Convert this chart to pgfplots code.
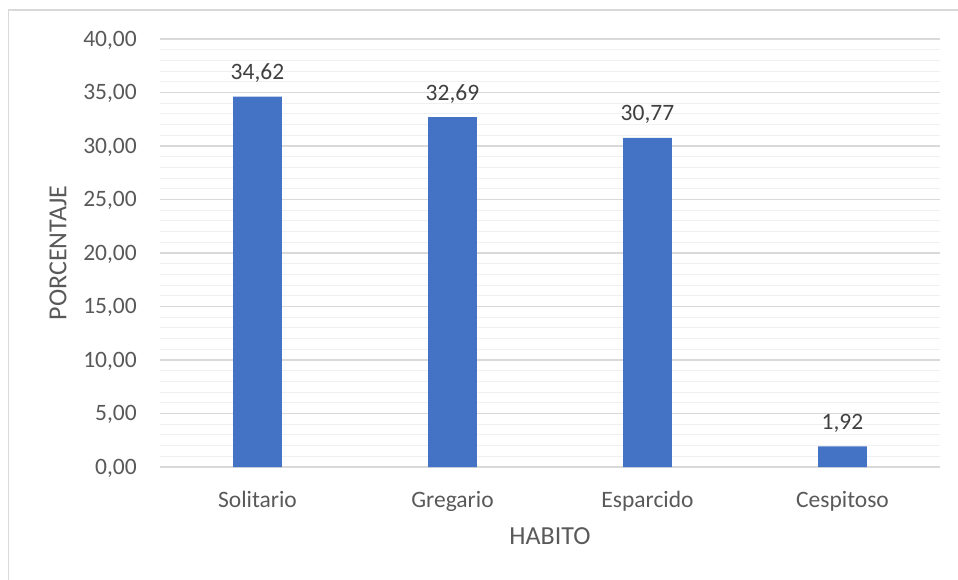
\documentclass[border=0pt]{standalone}
\usepackage{pgfplots}
\pgfplotsset{compat=1.18}
\usepackage{pgfplotstable}
\usepackage{fontspec}
\setmainfont{Carlito}
\definecolor{barblue}{HTML}{4472C4}
\definecolor{gridmaj}{HTML}{D9D9D9}
\definecolor{gridmin}{HTML}{F0F0F0}
\definecolor{txt}{HTML}{595959}
\definecolor{dtxt}{HTML}{404040}
\pgfplotstableread{
x y label
0 34.62 34,62
1 32.69 32,69
2 30.77 30,77
3 1.92 1,92
}\datatable
\begin{document}
\fontsize{23.5bp}{28bp}\selectfont
\begin{tikzpicture}[font=\fontsize{23.5bp}{28bp}\selectfont]
\begin{axis}[
  scale only axis,
  width=780bp, height=428bp,
  xmin=-0.5, xmax=3.5,
  ymin=0, ymax=40,
  xtick={0,1,2,3},
  xticklabels={Solitario,Gregario,Esparcido,Cespitoso},
  ytick={0,5,...,40},
  yticklabels={{0,00},{5,00},{10,00},{15,00},{20,00},{25,00},{30,00},{35,00},{40,00}},
  minor y tick num=4,
  ymajorgrids, yminorgrids,
  major grid style={draw=gridmaj, line width=1.2bp},
  minor grid style={draw=gridmin, line width=1bp},
  axis line style={draw=none},
  major tick length=0pt, minor tick length=0pt,
  tick label style={font=\fontsize{23.5bp}{28bp}\selectfont, text=txt},
  xticklabel style={anchor=base, inner sep=0pt, yshift=-40bp},
  yticklabel style={anchor=base east, inner sep=0pt, xshift=-23bp, yshift=-7.4bp},
  xlabel={HABITO}, ylabel={PORCENTAJE},
  every axis x label/.style={at={(axis description cs:0.5,0)}, anchor=center, inner sep=0pt, yshift=-69bp, font=\fontsize{26bp}{30bp}\selectfont, text=txt},
  every axis y label/.style={at={(axis description cs:-0.1308,0.5)}, anchor=center, rotate=90, inner sep=0pt, font=\fontsize{26bp}{30bp}\selectfont, text=txt},
  ybar, bar width=0.25,
  nodes near coords,
  point meta=explicit symbolic,
  every node near coord/.append style={font=\fontsize{23.5bp}{28bp}\selectfont, text=dtxt, anchor=base, inner sep=0pt, yshift=17bp},
]
\addplot[fill=barblue, draw=none] table[x=x, y=y, meta=label] {\datatable};
\end{axis}
\draw[gridmaj, line width=1.2bp] (-151.5bp,-200bp) rectangle (900bp,457bp);
\pgfresetboundingbox
\path[use as bounding box] (-160bp,-113bp) rectangle (798bp,467bp);
\end{tikzpicture}
\end{document}
